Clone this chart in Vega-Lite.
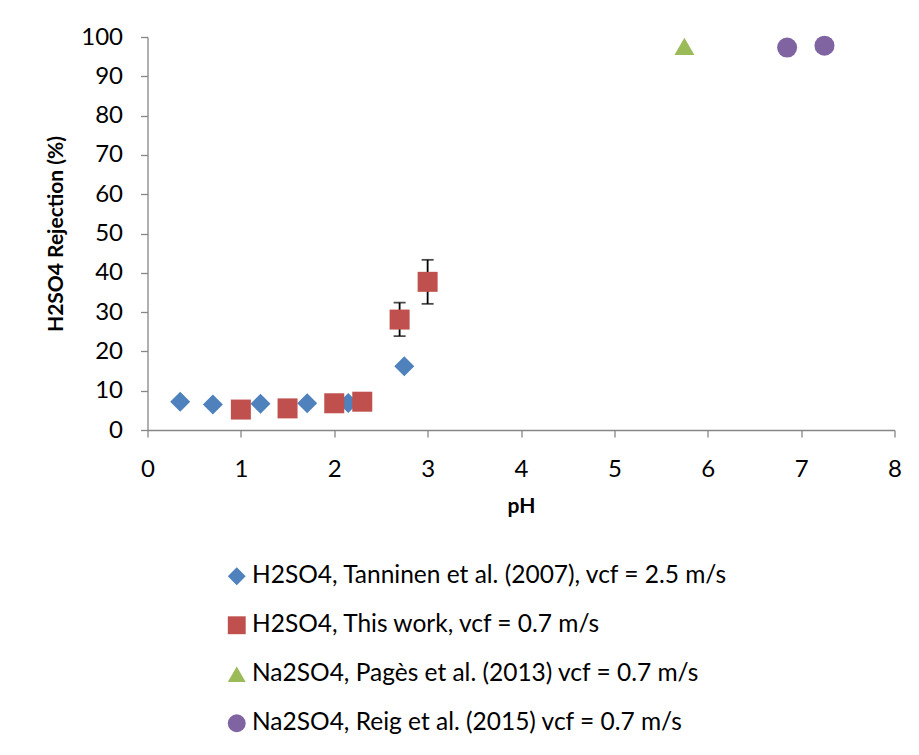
{
  "$schema": "https://vega.github.io/schema/vega-lite/v6.json",
  "width": 747,
  "height": 393,
  "autosize": {"type": "none"},
  "padding": {"left": 147.5, "top": 37, "right": 24.5, "bottom": 325},
  "background": "white",
  "config": {
    "view": {"stroke": null},
    "font": "Lato",
    "axis": {
      "domainColor": "#868686",
      "tickColor": "#868686",
      "domainWidth": 1.3,
      "tickWidth": 1.3,
      "tickSize": 7,
      "grid": false,
      "labelColor": "black",
      "labelFont": "Lato",
      "labelFontSize": 24,
      "labelOverlap": false,
      "labelFlush": false,
      "titleFont": "Lato",
      "titleFontSize": 21,
      "titleFontWeight": "bold",
      "titleColor": "black"
    }
  },
  "data": {
    "values": [
      {"series": "H2SO4, Tanninen et al. (2007), vcf = 2.5 m/s", "pH": 0.35, "rejection": 7.2},
      {"series": "H2SO4, Tanninen et al. (2007), vcf = 2.5 m/s", "pH": 0.7, "rejection": 6.5},
      {"series": "H2SO4, Tanninen et al. (2007), vcf = 2.5 m/s", "pH": 1.21, "rejection": 6.7},
      {"series": "H2SO4, Tanninen et al. (2007), vcf = 2.5 m/s", "pH": 1.71, "rejection": 6.8},
      {"series": "H2SO4, Tanninen et al. (2007), vcf = 2.5 m/s", "pH": 2.15, "rejection": 6.9},
      {"series": "H2SO4, Tanninen et al. (2007), vcf = 2.5 m/s", "pH": 2.75, "rejection": 16.2},
      {"series": "H2SO4, This work, vcf = 0.7 m/s", "pH": 1.0, "rejection": 5.2},
      {"series": "H2SO4, This work, vcf = 0.7 m/s", "pH": 1.5, "rejection": 5.5},
      {"series": "H2SO4, This work, vcf = 0.7 m/s", "pH": 2.0, "rejection": 6.8},
      {"series": "H2SO4, This work, vcf = 0.7 m/s", "pH": 2.3, "rejection": 7.2},
      {"series": "H2SO4, This work, vcf = 0.7 m/s", "pH": 2.7, "rejection": 28.1, "lo": 23.9, "hi": 32.4},
      {"series": "H2SO4, This work, vcf = 0.7 m/s", "pH": 3.0, "rejection": 37.7, "lo": 32.1, "hi": 43.3},
      {"series": "Na2SO4, Pagès et al. (2013) vcf = 0.7 m/s", "pH": 5.75, "rejection": 97.6},
      {"series": "Na2SO4, Reig et al. (2015) vcf = 0.7 m/s", "pH": 6.85, "rejection": 97.3},
      {"series": "Na2SO4, Reig et al. (2015) vcf = 0.7 m/s", "pH": 7.25, "rejection": 97.8}
    ]
  },
  "layer": [
    {
      "transform": [{"filter": "isValid(datum.lo)"}],
      "mark": {"type": "rule", "color": "black", "strokeWidth": 1.8},
      "encoding": {
        "x": {
          "field": "pH", "type": "quantitative",
          "scale": {"domain": [0, 8], "nice": false},
          "axis": {"values": [0,1,2,3,4,5,6,7,8], "format": "d", "title": "pH", "labelPadding": 20, "titlePadding": 14, "labelOverlap": false}
        },
        "y": {
          "field": "lo", "type": "quantitative",
          "scale": {"domain": [0, 100], "nice": false},
          "axis": {"values": [0,10,20,30,40,50,60,70,80,90,100], "tickCount": 11, "format": "d", "title": "H2SO4 Rejection (%)", "labelPadding": 18, "titlePadding": 14, "labelOverlap": false}
        },
        "y2": {"field": "hi"}
      }
    },
    {
      "transform": [{"filter": "isValid(datum.lo)"}],
      "mark": {"type": "tick", "orient": "horizontal", "color": "black", "thickness": 1.8, "size": 12},
      "encoding": {
        "x": {"field": "pH", "type": "quantitative"},
        "y": {"field": "lo", "type": "quantitative"}
      }
    },
    {
      "transform": [{"filter": "isValid(datum.lo)"}],
      "mark": {"type": "tick", "orient": "horizontal", "color": "black", "thickness": 1.8, "size": 12},
      "encoding": {
        "x": {"field": "pH", "type": "quantitative"},
        "y": {"field": "hi", "type": "quantitative"}
      }
    },
    {
      "mark": {"type": "point", "filled": true, "opacity": 1, "size": 400, "strokeWidth": 0},
      "encoding": {
        "x": {"field": "pH", "type": "quantitative"},
        "y": {"field": "rejection", "type": "quantitative"},
        "shape": {
          "field": "series", "type": "nominal",
          "scale": {
            "domain": ["H2SO4, Tanninen et al. (2007), vcf = 2.5 m/s", "H2SO4, This work, vcf = 0.7 m/s", "Na2SO4, Pagès et al. (2013) vcf = 0.7 m/s", "Na2SO4, Reig et al. (2015) vcf = 0.7 m/s"],
            "range": ["diamond", "square", "triangle-up", "circle"]
          },
          "legend": null
        },
        "color": {
          "field": "series", "type": "nominal",
          "scale": {
            "domain": ["H2SO4, Tanninen et al. (2007), vcf = 2.5 m/s", "H2SO4, This work, vcf = 0.7 m/s", "Na2SO4, Pagès et al. (2013) vcf = 0.7 m/s", "Na2SO4, Reig et al. (2015) vcf = 0.7 m/s"],
            "range": ["#4F81BD", "#C0504D", "#9BBB59", "#8064A2"]
          },
          "legend": {
            "title": null,
            "orient": "none",
            "legendX": 77,
            "legendY": 527,
            "direction": "vertical",
            "padding": 0,
            "rowPadding": 24,
            "labelFont": "Lato",
            "labelFontSize": 24.5,
            "labelColor": "black",
            "labelOffset": 3,
            "labelLimit": 700,
            "symbolSize": 320,
            "symbolStrokeWidth": 0,
            "symbolOpacity": 1
          }
        }
      }
    }
  ]
}
